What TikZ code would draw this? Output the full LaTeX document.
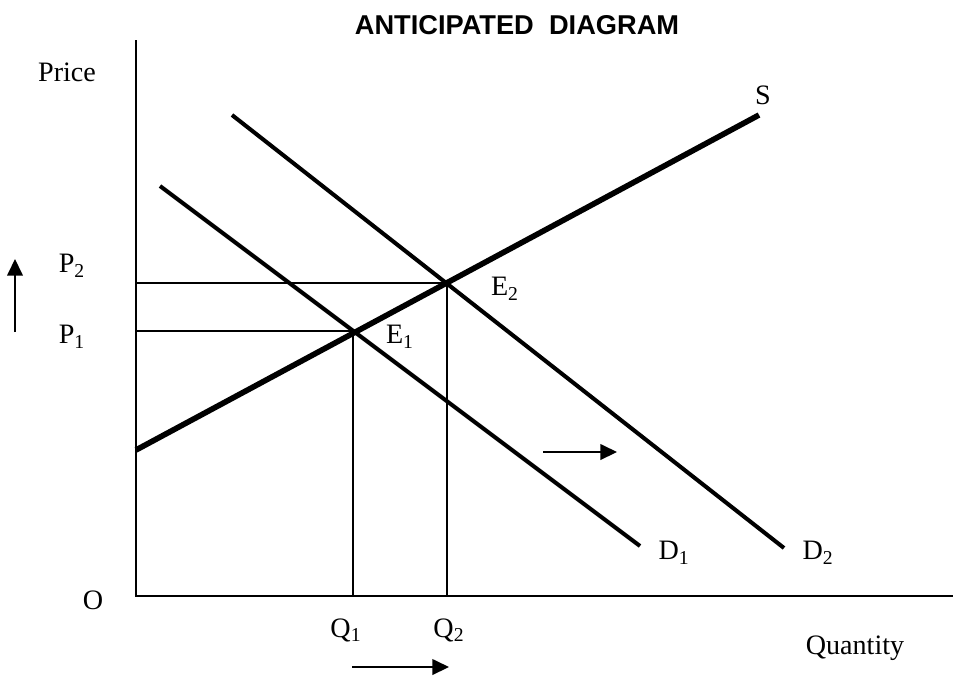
\documentclass[tikz,border=0pt]{standalone}
\usepackage{fontspec}
\setmainfont{Liberation Serif}
\newfontfamily\titlefont{Liberation Sans}
\usetikzlibrary{arrows.meta}

\begin{document}
\begin{tikzpicture}[x=0.02cm, y=-0.02cm,
    lbl/.style = {font=\fontsize{16}{19}\selectfont, inner sep=0pt},
    axis/.style = {line width=1pt},
    guide/.style = {line width=0.8pt},
    demand/.style = {line width=2.3pt},
    supply/.style = {line width=3.2pt},
    move/.style = {line width=0.8pt, -{Triangle[length=9.5pt,width=9pt]}}]
    \useasboundingbox (0,0) rectangle (953,691);

    \node[font=\titlefont\bfseries\fontsize{15.5}{18}\selectfont] (title) at (517,25) {ANTICIPATED\ \ DIAGRAM};

    % axes
    \coordinate (O) at (136,596);
    \coordinate (ytop) at (136,40);
    \coordinate (xend) at (953,596);
    \draw[axis] (ytop) -- (O) -- (xend);

    \node[lbl] (price) at (67,72) {Price};
    \node[lbl] (quantity) at (855,648) {Quantity};
    \node[lbl] (origin) at (93,600) {O};

    % curves
    \coordinate (E1) at (353,331);
    \coordinate (E2) at (447,283);
    \coordinate (S0) at (136,450);
    \coordinate (S1) at (759,115);
    \coordinate (Da) at (160,186);
    \coordinate (Db) at (640,546);
    \coordinate (Dc) at (232,115);
    \coordinate (Dd) at (784,548);

    \coordinate (P1) at (136,331);
    \coordinate (P2) at (136,283);
    \coordinate (Q1) at (353,596);
    \coordinate (Q2) at (447,596);
    \draw[guide] (P1) -- (E1) -- (Q1);
    \draw[guide] (P2) -- (E2) -- (Q2);

    \draw[demand] (Da) -- (Db);
    \draw[demand] (Dc) -- (Dd);
    \draw[supply] (S0) -- (S1);

    \node[lbl] (S) at (763,95) {S};
    \node[lbl] (D1) at (674,553) {D\textsubscript{1}};
    \node[lbl] (D2) at (818,553) {D\textsubscript{2}};
    \node[lbl] (E1lbl) at (400,337) {E\textsubscript{1}};
    \node[lbl] (E2lbl) at (505,289) {E\textsubscript{2}};
    \node[lbl] (P1lbl) at (72,337) {P\textsubscript{1}};
    \node[lbl] (P2lbl) at (72,266) {P\textsubscript{2}};
    \node[lbl] (Q1lbl) at (346,630) {Q\textsubscript{1}};
    \node[lbl] (Q2lbl) at (449,630) {Q\textsubscript{2}};

    % shift arrows
    \coordinate (up0) at (15,332);
    \coordinate (up1) at (15,259);
    \coordinate (mid0) at (543,452);
    \coordinate (mid1) at (617,452);
    \coordinate (low0) at (352,667);
    \coordinate (low1) at (449,667);
    \draw[move] (up0) -- (up1);
    \draw[move] (mid0) -- (mid1);
    \draw[move] (low0) -- (low1);
\end{tikzpicture}
\end{document}
